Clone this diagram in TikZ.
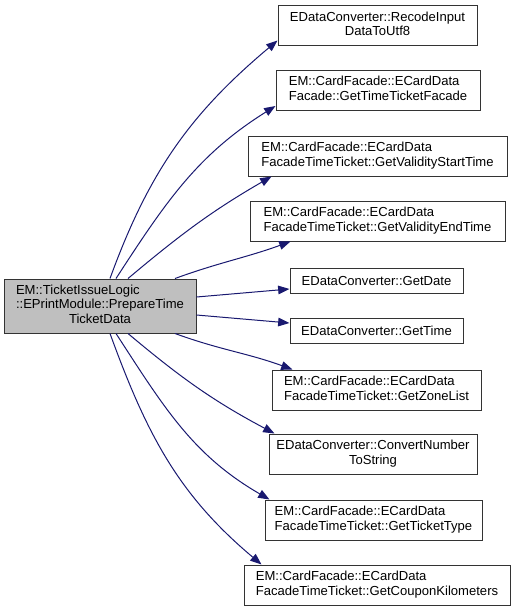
\documentclass[tikz,border=0pt]{standalone}
\usepackage{fontspec}
\setmainfont{Liberation Sans}
\usetikzlibrary{arrows.meta}

\definecolor{edgeblue}{HTML}{191970}
\definecolor{rootgray}{HTML}{BFBFBF}

% last line centred, the others left aligned
\newcommand{\fnname}[2]{\begin{tabular}{@{}l@{}}#1\\\multicolumn{1}{@{}c@{}}{#2}\end{tabular}}

\tikzset{
    fn/.style={draw=black!80, line width=0.75pt, fill=white, inner sep=0pt,
        font=\fontsize{9.8}{11}\selectfont},
    root/.style={fn, fill=rootgray},
    call/.style={draw=edgeblue, line width=0.75pt, -{Triangle[length=8.5pt, width=6.5pt]}}
}

\begin{document}
\begin{tikzpicture}[x=0.75pt, y=-0.75pt]
        % Page
        \useasboundingbox (0,0) rectangle (516,612);

        % Caller
        \node[root, minimum width=144pt, minimum height=40.5pt] (prepare) at (100,306)
            {\fnname{EM::TicketIssueLogic\\::EPrintModule::PrepareTime}{TicketData}};

        % Callees
        \node[fn, minimum width=149.25pt, minimum height=30pt] (recode) at (377.5,25.5)
            {\fnname{EDataConverter::RecodeInput}{DataToUtf8}};
        \node[fn, minimum width=153pt, minimum height=30pt] (facade) at (378,90)
            {\fnname{EM::CardFacade::ECardData}{Facade::GetTimeTicketFacade}};
        \node[fn, minimum width=194.25pt, minimum height=30pt] (vstart) at (377.5,156)
            {\fnname{EM::CardFacade::ECardData}{FacadeTimeTicket::GetValidityStartTime}};
        \node[fn, minimum width=191.25pt, minimum height=30pt] (vend) at (377.5,221)
            {\fnname{EM::CardFacade::ECardData}{FacadeTimeTicket::GetValidityEndTime}};
        \node[fn, minimum width=129.75pt, minimum height=18.75pt] (date) at (376.5,281)
            {EDataConverter::GetDate};
        \node[fn, minimum width=129.75pt, minimum height=18.75pt] (time) at (376.5,331)
            {EDataConverter::GetTime};
        \node[fn, minimum width=156.75pt, minimum height=30pt] (zones) at (376.5,390)
            {\fnname{EM::CardFacade::ECardData}{FacadeTimeTicket::GetZoneList}};
        \node[fn, minimum width=156pt, minimum height=30pt] (convert) at (373,454)
            {\fnname{EDataConverter::ConvertNumber}{ToString}};
        \node[fn, minimum width=162.75pt, minimum height=30pt] (ttype) at (373.5,520)
            {\fnname{EM::CardFacade::ECardData}{FacadeTimeTicket::GetTicketType}};
        \node[fn, minimum width=199.5pt, minimum height=30pt] (coupon) at (377,585)
            {\fnname{EM::CardFacade::ECardData}{FacadeTimeTicket::GetCouponKilometers}};

        % Calls upwards
        \draw[call] ([xshift=7.5pt]prepare.north) to[out=70, in=220] ([yshift=-11.25pt]recode.west);
        \draw[call] ([xshift=12pt]prepare.north) to[out=57, in=212] ([yshift=-12pt]facade.west);
        \draw[call] ([xshift=21pt]prepare.north) to[out=40, in=210] ([xshift=18pt]vstart.south west);
        \draw[call] ([xshift=56.25pt]prepare.north) to[out=20, in=200] ([xshift=30.75pt]vend.south west);

        % Calls sideways
        \draw[call] ([yshift=6.75pt]prepare.east) -- ([yshift=-6pt]date.west);
        \draw[call] ([yshift=-6.75pt]prepare.east) -- ([yshift=6pt]time.west);

        % Calls downwards
        \draw[call] ([xshift=56.25pt]prepare.south) to[out=-20, in=160] ([xshift=15.75pt]zones.north west);
        \draw[call] ([xshift=21pt]prepare.south) to[out=-40, in=152] ([xshift=4.5pt]convert.north west);
        \draw[call] ([xshift=12pt]prepare.south) to[out=-57, in=150] ([xshift=3.75pt]ttype.north west);
        \draw[call] ([xshift=7.5pt]prepare.south) to[out=-70, in=140] ([xshift=13.5pt]coupon.north west);
\end{tikzpicture}
\end{document}
